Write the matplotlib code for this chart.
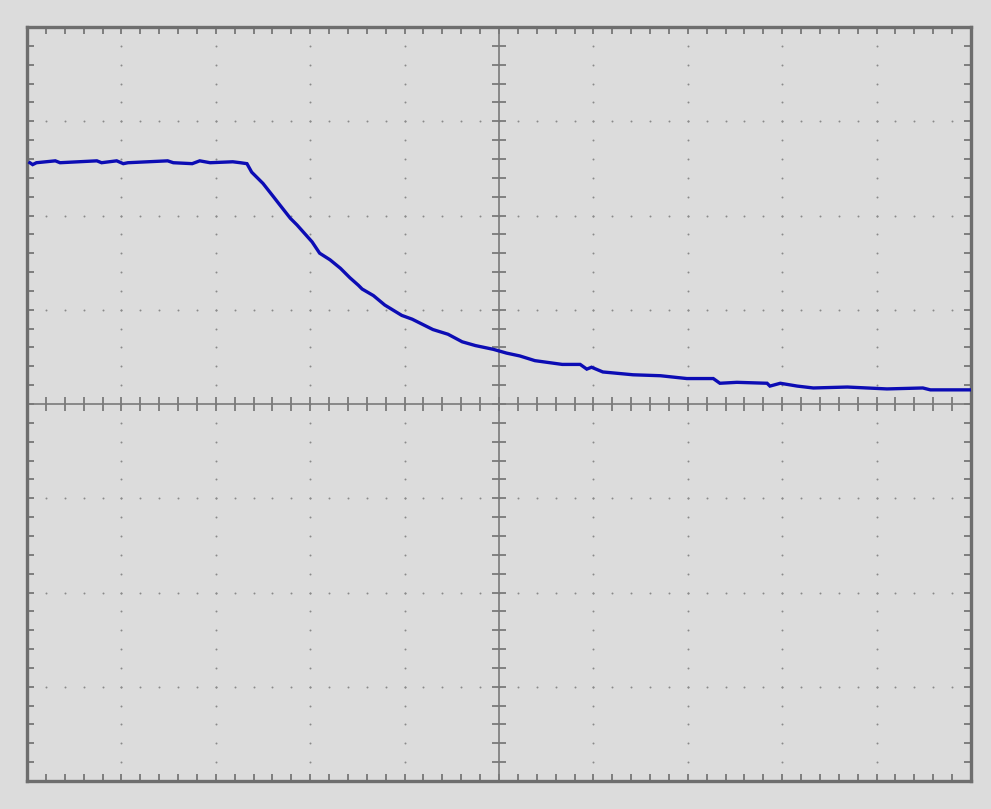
import numpy as np
import matplotlib.pyplot as plt

# trace, in divisions (x: 0..10, y: -4..4)
t = [0.03, 0.06, 0.10, 0.30, 0.35, 0.74, 0.79, 0.95, 1.02, 1.07, 1.49, 1.55,
     1.75, 1.83, 1.94, 2.18, 2.26, 2.33, 2.38, 2.50, 2.61, 2.68, 2.79, 2.86,
     2.94, 3.02, 3.10, 3.21, 3.32, 3.42, 3.51, 3.55, 3.67, 3.79, 3.97, 4.08,
     4.16, 4.30, 4.46, 4.61, 4.75, 4.94, 5.08, 5.22, 5.38, 5.67, 5.86, 5.93,
     5.98, 6.10, 6.42, 6.71, 6.99, 7.27, 7.34, 7.52, 7.84, 7.87, 7.98, 8.16,
     8.33, 8.69, 9.11, 9.49, 9.57, 9.99]
v = [2.56, 2.54, 2.56, 2.58, 2.56, 2.58, 2.56, 2.58, 2.55, 2.56, 2.58, 2.56,
     2.55, 2.58, 2.56, 2.57, 2.56, 2.55, 2.46, 2.34, 2.20, 2.11, 1.97, 1.90,
     1.81, 1.72, 1.60, 1.53, 1.44, 1.34, 1.26, 1.22, 1.15, 1.05, 0.94, 0.90,
     0.86, 0.79, 0.74, 0.66, 0.62, 0.58, 0.54, 0.51, 0.46, 0.42, 0.42, 0.37,
     0.39, 0.34, 0.31, 0.30, 0.27, 0.27, 0.22, 0.23, 0.22, 0.19, 0.22, 0.19,
     0.17, 0.18, 0.16, 0.17, 0.15, 0.15]

bg = "#dcdcdc"
fig = plt.figure(figsize=(9.91, 8.09), dpi=100, facecolor=bg)
ax = fig.add_axes([27 / 991, 28 / 809, 944 / 991, 754 / 809])
ax.set_facecolor(bg)
ax.set_xlim(0, 10)
ax.set_ylim(-4, 4)

# border with small inward ticks
for s in ax.spines.values():
    s.set_color("#6e6e6e")
    s.set_linewidth(2.4)
minor_x = np.arange(0, 10.01, 0.2)
minor_y = np.arange(-4, 4.01, 0.2)
ax.set_xticks(minor_x)
ax.set_yticks(minor_y)
ax.tick_params(direction="in", length=5, width=1.2, color="#6e6e6e",
               top=True, right=True, labelbottom=False, labelleft=False)

# dotted grid
dot = dict(color="#8a8a8a", s=2, linewidths=0, zorder=1)
for gx in [1, 2, 3, 4, 6, 7, 8, 9]:
    ax.scatter(np.full(len(minor_y), gx), minor_y, **dot)
for gy in [-3, -2, -1, 1, 2, 3]:
    ax.scatter(minor_x, np.full(len(minor_x), gy), **dot)

# centre axes with cross ticks
ax.axvline(5, color="#7a7a7a", lw=1.2, zorder=2)
ax.axhline(0, color="#7a7a7a", lw=1.2, zorder=2)
ax.plot(np.full(len(minor_y), 5), minor_y, ls="none", marker="_", ms=10,
        mew=1.3, color="#7a7a7a", zorder=2)
ax.plot(minor_x, np.zeros(len(minor_x)), ls="none", marker="|", ms=10,
        mew=1.3, color="#7a7a7a", zorder=2)

ax.plot(t, v, color="#0c0cb4", lw=2.4, zorder=3, solid_joinstyle="miter")

fig.savefig("out.png", dpi=100, facecolor=bg)
